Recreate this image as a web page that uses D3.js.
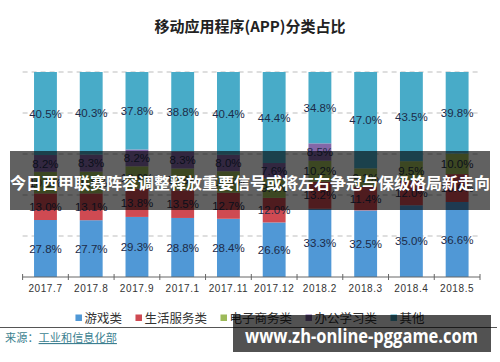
<!DOCTYPE html>
<html><head><meta charset="utf-8">
<script src="https://cdn.jsdelivr.net/npm/d3@7/dist/d3.min.js"></script>
<style>body{margin:0;background:#fff}svg{display:block}</style>
</head><body><svg id="c" width="500" height="362"></svg>
<script>
const months = ["2017.7","2017.8","2017.9","2017.1","2017.11","2017.12","2018.2","2018.3","2018.4","2018.5"];
const seriesNames = ["游戏类","生活服务类","电子商务类","办公学习类","其他"];
const game      = [27.8, 27.7, 29.3, 28.8, 28.4, 26.6, 33.3, 32.5, 35.0, 36.6];
const life      = [13.0, 13.1, 13.8, 13.5, 12.7, 12.0, 13.2, 11.4, 12.0, 13.6];
const ecommerce = [10.5, 10.6, 10.9, 10.6, 10.5,  9.4, 10.2,  9.1,  9.5, 10.0];
const office    = [ 8.2,  8.3,  8.2,  8.3,  8.0,  7.6,  8.5,  0.0,  0.0,  0.0];
const other     = [40.5, 40.3, 37.8, 38.8, 40.4, 44.4, 34.8, 47.0, 43.5, 39.8];
const colors    = ["#5098d6","#cf4a52","#9dba5a","#8468a8","#48abc8"];
const gridTicks = [20, 40, 60, 80, 100];
const title = "移动应用程序(APP)分类占比";
const banner = "今日西甲联赛阵容调整释放重要信号或将左右争冠与保级格局新走向";
const sourceLabel = "来源：";
const sourceName = "工业和信息化部";
const urlText = "www.zh-online-pggame.com";

const cjk = "'Noto Sans CJK SC','Noto Sans',sans-serif";
const num = "'Liberation Sans',Arial,sans-serif";
const svg = d3.select("#c");

const rows = months.map((m,i)=>({month:m, "游戏类":game[i], "生活服务类":life[i], "电子商务类":ecommerce[i], "办公学习类":office[i], "其他":other[i]}));
const stacked = d3.stack().keys(seriesNames)(rows);

const x = d3.scaleBand().domain(months).range([22.6, 480]).paddingInner(0.5).paddingOuter(0.25);
const y = d3.scaleLinear().domain([0,100]).range([277, 72]);
const color = d3.scaleOrdinal().domain(seriesNames).range(colors);

// title
svg.append("text").attr("x",250).attr("y",32).attr("text-anchor","middle")
  .attr("font-family",cjk).attr("font-weight","bold").attr("font-size",15).attr("fill","#222").text(title);

// gridlines
svg.append("g").selectAll("line").data(gridTicks).join("line")
  .attr("x1",22.6).attr("x2",480).attr("y1",d=>y(d)).attr("y2",d=>y(d))
  .attr("stroke","#bdbdbd").attr("stroke-dasharray","5,4").attr("stroke-width",1);

// bars
const layer = svg.append("g").selectAll("g").data(stacked).join("g").attr("fill",d=>color(d.key));
layer.selectAll("rect").data(d=>d).join("rect")
  .attr("x",d=>x(d.data.month)).attr("width",x.bandwidth())
  .attr("y",d=>y(d[1])).attr("height",d=>y(d[0])-y(d[1]));

// value labels
const lab = svg.append("g");
stacked.forEach(s=>{
  s.forEach(d=>{
    const v = d[1]-d[0];
    if (v <= 0.05) return;
    lab.append("text").attr("x",x(d.data.month)+x.bandwidth()/2).attr("y",(y(d[0])+y(d[1]))/2)
      .attr("dy","0.36em").attr("text-anchor","middle").attr("font-family",num).attr("font-size",11.5)
      .attr("fill","#1d2b48").text(d.data[s.key].toFixed(1)+"%");
  });
});

// x axis
const ax = svg.append("g").attr("transform","translate(0,277)");
ax.call(d3.axisBottom(x).tickSize(0).tickPadding(8));
ax.select(".domain").remove();
ax.selectAll("text").attr("font-family",num).attr("font-size",10).attr("fill","#333").attr("letter-spacing",0.6);
ax.append("line").attr("x1",22.6).attr("x2",480).attr("stroke","#666");
const edges = months.map(m=>x(m)-x.step()*x.paddingInner()/2).concat([480]);
ax.selectAll(".edge").data(edges).join("line").attr("class","edge")
  .attr("x1",d=>d).attr("x2",d=>d).attr("y1",-3).attr("y2",3).attr("stroke","#666");

// legend
const lg = svg.append("g").attr("transform","translate(0,318)");
let items = lg.selectAll("g").data(seriesNames).join("g");
items.append("rect").attr("width",6.5).attr("height",6.5).attr("y",-3.5).attr("fill",d=>color(d));
items.append("text").attr("x",9).attr("dy","0.36em").attr("font-family",cjk).attr("font-size",12.5).attr("fill","#333").text(d=>d);
const widths = items.nodes().map(n=>9+n.querySelector("text").getComputedTextLength());
const gap = 13.5;
const total = d3.sum(widths)+gap*(widths.length-1);
let cx = 250-total/2;
items.attr("transform",(d,i)=>{const t=`translate(${cx},0)`; cx+=widths[i]+gap; return t;});

// rule + source
svg.append("line").attr("x1",0).attr("x2",497).attr("y1",327.5).attr("y2",327.5).attr("stroke","#555");
const src = svg.append("text").attr("x",5).attr("y",342).attr("font-family",cjk).attr("font-size",11.2).attr("fill","#3c7f90");
src.append("tspan").text(sourceLabel);
src.append("tspan").attr("text-decoration","underline").text(sourceName);

// overlay banner
svg.append("rect").attr("x",10).attr("y",151).attr("width",480).attr("height",59).attr("fill","rgba(0,0,0,0.62)");
svg.append("text").attr("x",250).attr("y",189).attr("text-anchor","middle").attr("font-family",cjk)
  .attr("font-weight","bold").attr("font-size",16).attr("fill","#fff").text(banner);

// url box
svg.append("rect").attr("x",233).attr("y",315).attr("width",258).attr("height",37).attr("fill","rgba(0,0,0,0.68)");
svg.append("text").attr("x",245).attr("y",343).attr("font-family","'Open Sans',sans-serif")
  .attr("font-weight","bold").attr("font-size",19).attr("fill","#fff")
  .attr("textLength",233).attr("lengthAdjust","spacingAndGlyphs").text(urlText);
</script></body></html>
